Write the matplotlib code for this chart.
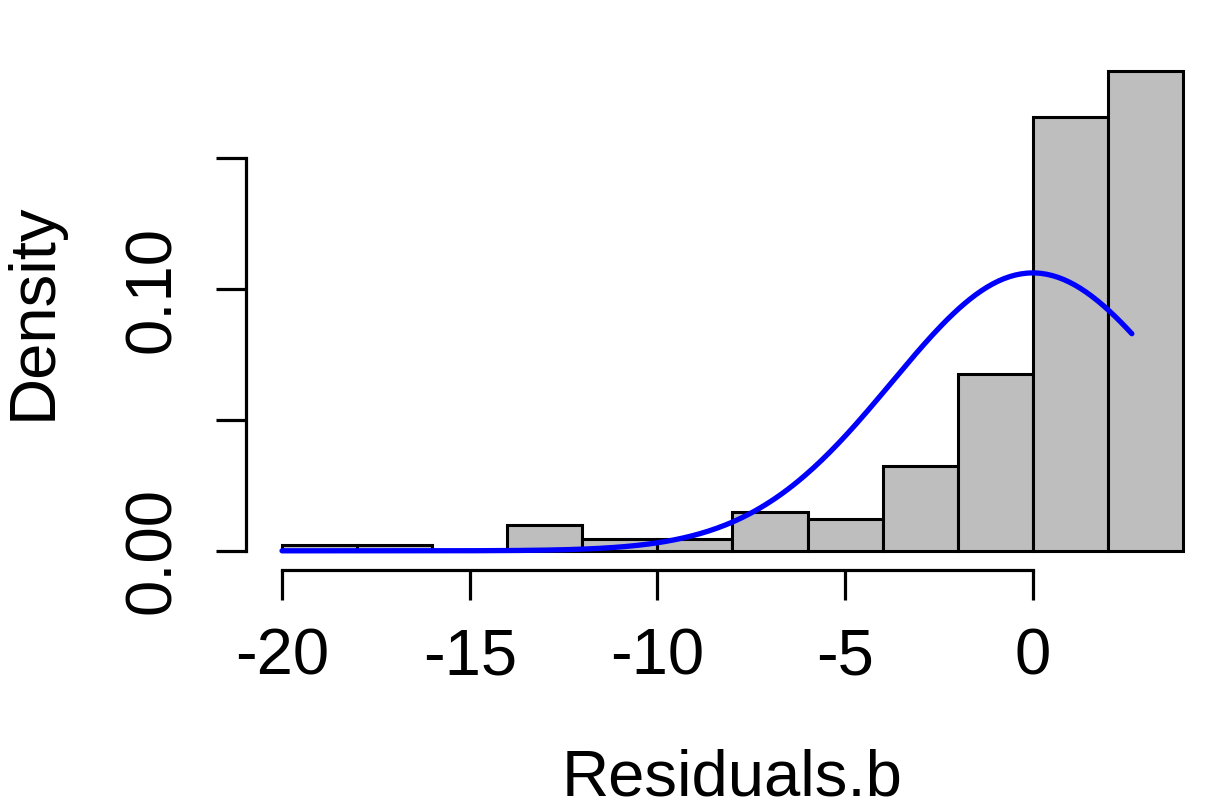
import numpy as np
import matplotlib
matplotlib.use("Agg")
import matplotlib.pyplot as plt

plt.rcParams['font.family'] = ['Liberation Sans', 'DejaVu Sans']

# histogram of residuals (density scale), bins of width 2
bin_edges = [-20, -18, -16, -14, -12, -10, -8, -6, -4, -2, 0, 2, 4]
densities = [0.0023, 0.0023, 0.0, 0.0099, 0.0046, 0.0046,
             0.0149, 0.0122, 0.0324, 0.0676, 0.1656, 0.1832]

# fitted normal curve parameters
curve_mean = 0.0
curve_sd = 3.757
curve_from = -20.0
curve_to = 2.64

x_ticks = [-20, -15, -10, -5, 0]
y_ticks = [0.00, 0.05, 0.10, 0.15]
y_ticklabels = ['0.00', '', '0.10', '']

fig = plt.figure(figsize=(12.3, 8.1), dpi=100)
ax = fig.add_axes([0.2, 0.2963, 0.791, 0.6395])

lefts = bin_edges[:-1]
widths = np.diff(bin_edges)
ax.bar(lefts, densities, width=widths, align='edge', color='#BEBEBE',
       edgecolor='black', linewidth=2.2)

xs = np.linspace(curve_from, curve_to, 300)
ys = np.exp(-0.5 * ((xs - curve_mean) / curve_sd) ** 2) / (curve_sd * np.sqrt(2 * np.pi))
ax.plot(xs, ys, color='#0000FF', linewidth=3.8, solid_capstyle='round')

ax.set_xlim(-20.96, 4.96)
ax.set_ylim(-0.00733, 0.1906)

for s in ['top', 'right']:
    ax.spines[s].set_visible(False)
ax.spines['left'].set_bounds(0, 0.15)
ax.spines['bottom'].set_bounds(-20, 0)
ax.spines['left'].set_linewidth(2.3)
ax.spines['bottom'].set_linewidth(2.3)

ax.set_xticks(x_ticks)
ax.set_xticklabels([str(t) for t in x_ticks])
ax.set_yticks(y_ticks)
ax.set_yticklabels(y_ticklabels, rotation=90, va='center')
ax.tick_params(axis='both', length=21.6, width=2.3, labelsize=47)
ax.tick_params(axis='x', pad=20)
ax.tick_params(axis='y', pad=24)

fig.text(732 / 1230, 1 - 778 / 810, 'Residuals.b', fontsize=47,
         ha='center', va='center')
fig.text(34 / 1230, 1 - 311 / 810, 'Density', fontsize=47,
         ha='center', va='center', rotation=90)

fig.savefig('out.png', dpi=100)
